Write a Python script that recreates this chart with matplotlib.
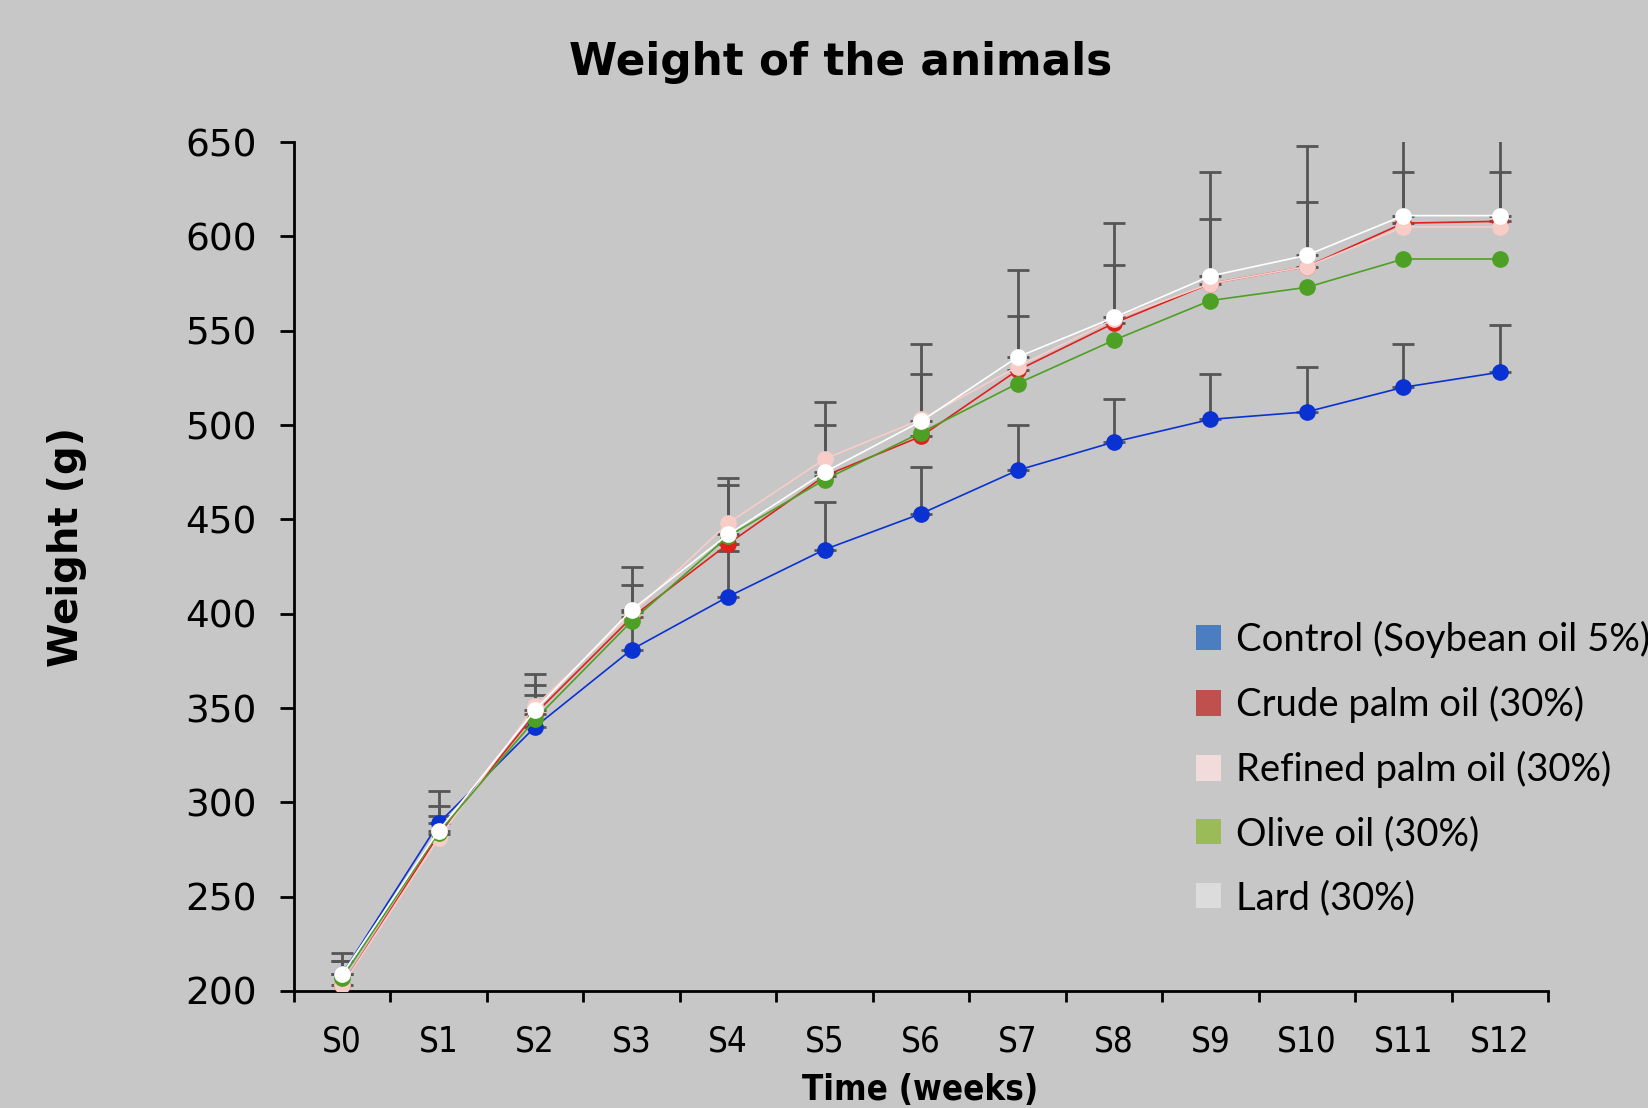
import matplotlib
matplotlib.use("Agg")
import matplotlib.pyplot as plt
from matplotlib.patches import Patch
import numpy as np

# categories (weeks)
weeks = ["S0", "S1", "S2", "S3", "S4", "S5", "S6", "S7", "S8", "S9", "S10", "S11", "S12"]

# mean weights (g)
control = [209, 289, 340, 381, 409, 434, 453, 476, 491, 503, 507, 520, 528]
crude_palm = [203, 283, 347, 398, 437, 473, 494, 529, 554, 575, 584, 607, 608]
refined_palm = [203, 281, 351, 400, 448, 482, 503, 531, 556, 575, 584, 605, 605]
olive = [207, 284, 344, 396, 441, 471, 496, 522, 545, 566, 573, 588, 588]
lard = [209, 285, 349, 402, 442, 475, 502, 536, 557, 579, 590, 611, 611]

# upper error bars (SD)
control_sd = [7, 4, 17, 20, 24, 25, 25, 24, 23, 24, 24, 23, 25]
crude_sd = [13, 15, 15, 17, 31, 27, 33, 29, 31, 34, 34, 27, 26]
lard_sd = [11, 21, 19, 23, 30, 37, 41, 46, 50, 55, 58, 55, 55]

labels = ["Control (Soybean oil 5%)", "Crude palm oil (30%)", "Refined palm oil (30%)",
          "Olive oil (30%)", "Lard (30%)"]
line_colors = ["#0a32d2", "#e0201c", "#f8cdc8", "#4ea024", "#ffffff"]
legend_colors = ["#4a7ec0", "#c0504d", "#f2dcdb", "#9bbb59", "#dcdcdc"]

bg = "#c7c7c7"

fig = plt.figure(figsize=(16.49, 11.08), dpi=100, facecolor=bg)
ax = fig.add_axes([0.1783, 0.1056, 0.7605, 0.7662])
ax.set_facecolor("none")

x = np.arange(len(weeks))

# error bars (upper only) behind the lines
for vals, sd in [(lard, lard_sd), (crude_palm, crude_sd), (control, control_sd)]:
    ax.errorbar(x, vals, yerr=[np.zeros(len(sd)), sd], fmt="none", ecolor="#555555",
                elinewidth=2, capsize=8, capthick=2, zorder=1)

series = [control, crude_palm, refined_palm, olive, lard]
for vals, c in zip(series, line_colors):
    ax.plot(x, vals, color=c, lw=1.2, marker="o", ms=11, mec=c, mfc=c, zorder=3)

ax.set_xlim(-0.5, len(weeks) - 0.5)
ax.set_ylim(200, 650)
ax.set_yticks(np.arange(200, 651, 50))
ax.set_xticks(x)
ax.set_xticklabels(weeks, fontsize=25, fontstretch="condensed")
ax.set_xticks(np.arange(-0.5, len(weeks), 1), minor=True)
ax.tick_params(axis="x", which="major", length=0, pad=24)
ax.tick_params(axis="x", which="minor", length=8, width=2, direction="out")
ax.tick_params(axis="y", length=10, width=2, direction="out", pad=17, labelsize=27)

for side in ["top", "right"]:
    ax.spines[side].set_visible(False)
for side in ["left", "bottom"]:
    ax.spines[side].set_linewidth(2)

ax.set_xlabel("Time (weeks)", fontsize=25, fontweight="bold", fontstretch="condensed")
ax.xaxis.set_label_coords(0.499, -0.0966)
ax.set_ylabel("Weight (g)", fontsize=29, fontweight="bold")
ax.yaxis.set_label_coords(-0.165, 0.523)

fig.text(841 / 1649, 1 - 63 / 1108, "Weight of the animals", ha="center", va="center",
         fontsize=31.5, fontweight="bold")

handles = [Patch(facecolor=c, edgecolor="none") for c in legend_colors]
leg = fig.legend(handles, labels, loc="upper left", bbox_to_anchor=(1196 / 1649, 1 - 621 / 1108),
                 frameon=False, fontsize=27.5, handlelength=0.65, handleheight=0.65,
                 handletextpad=0.4, labelspacing=0.73, borderpad=0, borderaxespad=0)
for t in leg.get_texts():
    t.set_family(["Lato", "DejaVu Sans"])

fig.savefig("out.png", dpi=100, facecolor=bg)
